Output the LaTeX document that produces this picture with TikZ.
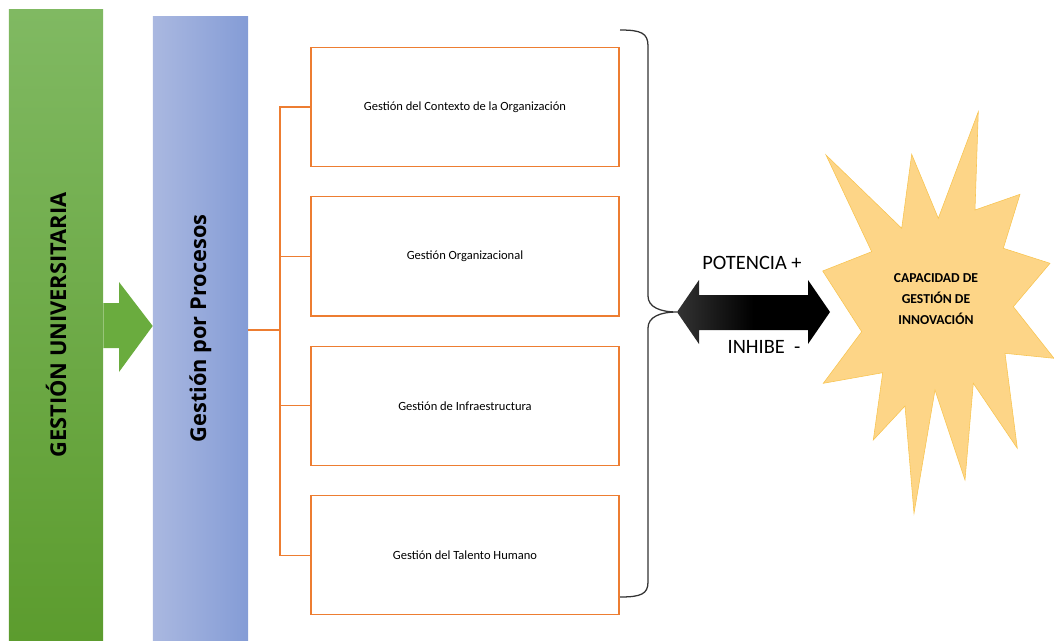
\documentclass[tikz,border=0pt]{standalone}
\usepackage{fontspec}
\setmainfont{Carlito}
\newfontfamily\headfont{Open Sans}
\usetikzlibrary{calc, positioning}
\definecolor{gutop}{RGB}{128,185,98}
\definecolor{gubot}{RGB}{92,156,46}
\definecolor{guarrow}{RGB}{106,172,62}
\definecolor{gpleft}{RGB}{170,184,224}
\definecolor{gpright}{RGB}{132,156,214}
\definecolor{boxorange}{RGB}{237,125,49}
\definecolor{starfill}{RGB}{253,213,135}
\definecolor{stardraw}{RGB}{248,196,80}
\tikzset{>=latex,
  bigbar/.style={rotate=90, inner sep=0pt, font=\headfont\bfseries\fontsize{15.5}{18}\selectfont},
  procbox/.style={draw=boxorange, line width=0.8pt, fill=white, minimum width=7.7cm,
    minimum height=2.98cm, inner sep=0pt, font=\fontsize{8.9}{10}\selectfont},
  orangeline/.style={draw=boxorange, line width=0.8pt},
  bracket/.style={draw=black!80, line width=0.9pt},
  dblarrow/.style={left color=black!80, right color=black, middle color=black},
  arrowlabel/.style={font=\fontsize{14.5}{17}\selectfont},
  startext/.style={align=center, font=\bfseries\fontsize{9.7}{15}\selectfont}
}

\begin{document}
\begin{tikzpicture}[x=0.025cm, y=-0.025cm]
\useasboundingbox (0,0) rectangle (1054,640);

% barras de la izquierda
\node[bigbar, top color=gutop, bottom color=gubot, minimum width=15.75cm, minimum height=2.35cm] (gu) at (56,325) {GESTIÓN UNIVERSITARIA};
\node[bigbar, left color=gpleft, right color=gpright, minimum width=15.575cm, minimum height=2.375cm] (gp) at (200.5,328.5) {Gestión por Procesos};
\fill[guarrow] (gu.south |- 0,303) -- (119,303) -- (119,282) -- (gp.north |- 0,326) -- (119,372) -- (119,348) -- (gu.south |- 0,348) -- cycle;

% procesos
\node[procbox] (b1) at (465,107) {Gestión del Contexto de la Organización};
\node[procbox, below=0.725cm of b1] (b2) {Gestión Organizacional};
\node[procbox, below=0.725cm of b2] (b3) {Gestión de Infraestructura};
\node[procbox, below=0.725cm of b3] (b4) {Gestión del Talento Humano};

\coordinate (split) at (280,330);
\draw[orangeline] (gp.south |- split) -- (split);
\foreach \b in {b1,b2,b3,b4}
  \draw[orangeline] (split) |- (\b.west);

% llave
\coordinate (bracetip) at (677,312);
\draw[bracket] (620,30) .. controls (641,30) and (648,33) .. (648,46) -- (648,296)
  .. controls (648,307) and (660,312) .. (bracetip)
  .. controls (660,312) and (648,317) .. (648,328) -- (648,582)
  .. controls (648,594) and (641,597) .. (620,597);

% flecha doble
\coordinate (startip) at (830,312);
\path[dblarrow] (bracetip) -- ++(22,-32) -- ++(0,15) -- ($(startip)+(-22,-17)$) -- ++(0,-15)
  -- (startip) -- ++(-22,32) -- ++(0,-14) -- ($(bracetip)+(22,18)$) -- ++(0,14) -- cycle;
\node[arrowlabel] (potencia) at (752,263) {POTENCIA +};
\node[arrowlabel] (inhibe) at (764,347) {INHIBE \ -};

% estrella
\filldraw[fill=starfill, draw=stardraw, line width=0.4pt]
  (826,155) -- (901.7,228.3) -- (911.7,154.3) -- (938.3,218.3) -- (978.3,111.7)
  -- (975,210) -- (1020,194.3) -- (1003.3,248.3) -- (1050,263.3) -- (1013.3,306.7)
  -- (1054,358.3) -- (1005,353.3) -- (1017.3,448.3) -- (973.3,383.3) -- (965,480)
  -- (935,390) -- (914,513.3) -- (905,406) -- (873.3,440) -- (882.7,372.7)
  -- (823.3,383.3) -- (861.7,331.7) -- (822.7,271) -- (871.7,251.7) -- cycle;
\node[startext] (capgi) at (936,299) {CAPACIDAD DE\\GESTIÓN DE\\INNOVACIÓN};
\end{tikzpicture}
\end{document}
